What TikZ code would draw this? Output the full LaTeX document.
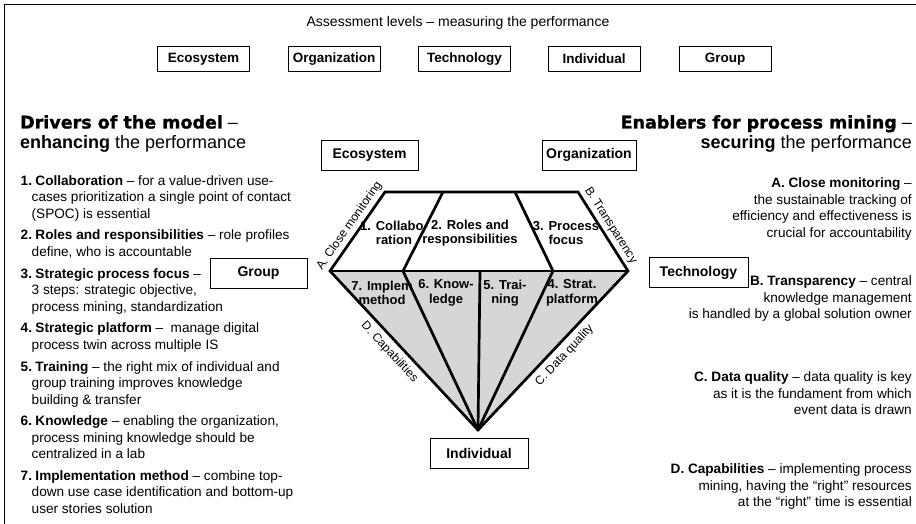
\documentclass[tikz,border=0pt]{standalone}
\usepackage{fontspec}
\setmainfont{Liberation Sans}
\newfontfamily\heavyfont{DejaVu Sans Bold}[FakeBold=1.2]
\begin{document}
\begin{tikzpicture}[x=1pt,y=-1pt,
  every node/.style={inner sep=0pt},
  lvlbox/.style={draw, line width=0.8pt, minimum width=92pt, minimum height=25pt,
    font=\fontsize{13.5}{16}\selectfont\bfseries},
  sidebox/.style={draw, line width=0.8pt, minimum width=97pt, minimum height=30pt,
    font=\fontsize{14}{16}\selectfont\bfseries},
  seglabel/.style={align=center, font=\fontsize{13}{14.5}\selectfont\bfseries},
  edgelabel/.style={font=\fontsize{12}{14}\selectfont, sloped},
  gemline/.style={line width=2.7pt},
  body/.style={font=\fontsize{13.6}{16.5}\selectfont},
  drv/.style={body, align=left, anchor=north west},
  enb/.style={body, align=right, anchor=north east},
  headl/.style={anchor=base west, font=\fontsize{18}{20}\selectfont},
  headr/.style={anchor=base east, font=\fontsize{18}{20}\selectfont},
]
\useasboundingbox (0,0) rectangle (916,524);

% frame
\draw[line width=1.4pt] (916,4.5) -- (4.5,4.5) -- (4.5,524);

% assessment levels
\node[anchor=base, font=\fontsize{14}{16}\selectfont] (title) at (458,27)
  {Assessment levels – measuring the performance};
\node[lvlbox] (lvEco) at (203.5,59) {Ecosystem};
\node[lvlbox] (lvOrg) at (334,59) {Organization};
\node[lvlbox] (lvTec) at (464.5,59) {Technology};
\node[lvlbox] (lvInd) at (594,59) {Individual};
\node[lvlbox] (lvGrp) at (725,59) {Group};

% gem outline points
\coordinate (TL) at (385,192);
\coordinate (T1) at (443,192);
\coordinate (T2) at (515,192);
\coordinate (TR) at (578,192);
\coordinate (L)  at (330,271);
\coordinate (M1) at (403,271);
\coordinate (M2) at (480,271);
\coordinate (M3) at (553,271);
\coordinate (R)  at (628,271);
\coordinate (A)  at (478,430);

\fill[black!16] (L) -- (R) -- (A) -- cycle;
\draw[gemline, line join=miter] (L) -- (TL) -- (TR) -- (R) -- (A) -- cycle;
\draw[gemline] (L) -- (R);
\draw[gemline] (T1) -- (M1) -- (A);
\draw[gemline] (T2) -- (M3) -- (A);
\draw[gemline] (M2) -- (A);

% segment labels
\node[seglabel] (s1) at (394,233) {1. Collabo-\\ration};
\node[seglabel] (s2) at (470,233) {2. Roles and\\responsibilities};
\node[seglabel] (s3) at (566,233) {3. Process\\focus};
\node[seglabel] (s7) at (382,293) {7. Implem\\method};
\node[seglabel] (s6) at (446,293) {6. Know-\\ledge};
\node[seglabel] (s5) at (505,293) {5. Trai-\\ning};
\node[seglabel] (s4) at (572,293) {4. Strat.\\platform};

% enabler labels along the gem edges
\path (L) -- (TL) node[edgelabel, pos=0.5, above=4pt] (eA) {A. Close monitoring};
\path (TR) -- (R) node[edgelabel, pos=0.49, above=4pt] (eB) {B. Transparency};
\path (L) -- (A) node[edgelabel, pos=0.46, below=6pt] (eD) {D. Capabilities};
\path (A) -- (R) node[edgelabel, pos=0.52, below=6pt] (eC) {C. Data quality};

% assessment levels around the gem
\node[sidebox] (sEco) at (369.5,155) {Ecosystem};
\node[sidebox, minimum width=94pt] (sOrg) at (589,155) {Organization};
\node[sidebox] (sGrp) at (258.5,273.5) {Group};
\node[sidebox, minimum width=99pt] (sTec) at (698.5,272.5) {Technology};
\node[sidebox, minimum width=98pt] (sInd) at (479,453.5) {Individual};

% drivers
\node[headl] (hdl1) at (20,128.5)
  {{\heavyfont\fontsize{17.5}{20}\selectfont Drivers of the model} –};
\node[headl] (hdl2) at (20,148.5) {\textbf{enhancing} the performance};

\node[drv] (d1) at (20.5,173.5) {\strut\makebox[11pt][l]{\textbf{1.}} \textbf{Collaboration} – for a value-driven use-\\
  \hspace*{11pt}cases prioritization a single point of contact\\
  \hspace*{11pt}(SPOC) is essential};
\node[drv] (d2) at (20.5,228.2) {\strut\makebox[11pt][l]{\textbf{2.}} \textbf{Roles and responsibilities} – role profiles\\
  \hspace*{11pt}define, who is accountable};
\node[drv] (d3) at (20.5,266.4) {\strut\makebox[11pt][l]{\textbf{3.}} \textbf{Strategic process focus} –\\
  \hspace*{11pt}3 steps: strategic objective,\\
  \hspace*{11pt}process mining, standardization};
\node[drv] (d4) at (20.5,321.1) {\strut\makebox[11pt][l]{\textbf{4.}} \textbf{Strategic platform} –\ \ manage digital\\
  \hspace*{11pt}process twin across multiple IS};
\node[drv] (d5) at (20.5,359.3) {\strut\makebox[11pt][l]{\textbf{5.}} \textbf{Training} – the right mix of individual and\\
  \hspace*{11pt}group training improves knowledge\\
  \hspace*{11pt}building \& transfer};
\node[drv] (d6) at (20.5,414.0) {\strut\makebox[11pt][l]{\textbf{6.}} \textbf{Knowledge} – enabling the organization,\\
  \hspace*{11pt}process mining knowledge should be\\
  \hspace*{11pt}centralized in a lab};
\node[drv] (d7) at (20.5,468.7) {\strut\makebox[11pt][l]{\textbf{7.}} \textbf{Implementation method} – combine top-\\
  \hspace*{11pt}down use case identification and bottom-up\\
  \hspace*{11pt}user stories solution};

% enablers
\node[headr] (hdr1) at (912,128.5)
  {{\heavyfont\fontsize{17.5}{20}\selectfont Enablers for process mining} –};
\node[headr] (hdr2) at (912,148.5) {\textbf{securing} the performance};

\node[enb] (nA) at (912,176) {\strut\textbf{A. Close monitoring} –\\
  the sustainable tracking of\\
  efficiency and effectiveness is\\
  crucial for accountability};
\node[enb] (nB) at (912,274) {\strut\textbf{B. Transparency} – central\\
  knowledge management\\
  is handled by a global solution owner};
\node[enb] (nC) at (912,370) {\strut\textbf{C. Data quality} – data quality is key\\
  as it is the fundament from which\\
  event data is drawn};
\node[enb] (nD) at (912,462) {\strut\textbf{D. Capabilities} – implementing process\\
  mining, having the “right” resources\\
  at the “right” time is essential};
\end{tikzpicture}
\end{document}
